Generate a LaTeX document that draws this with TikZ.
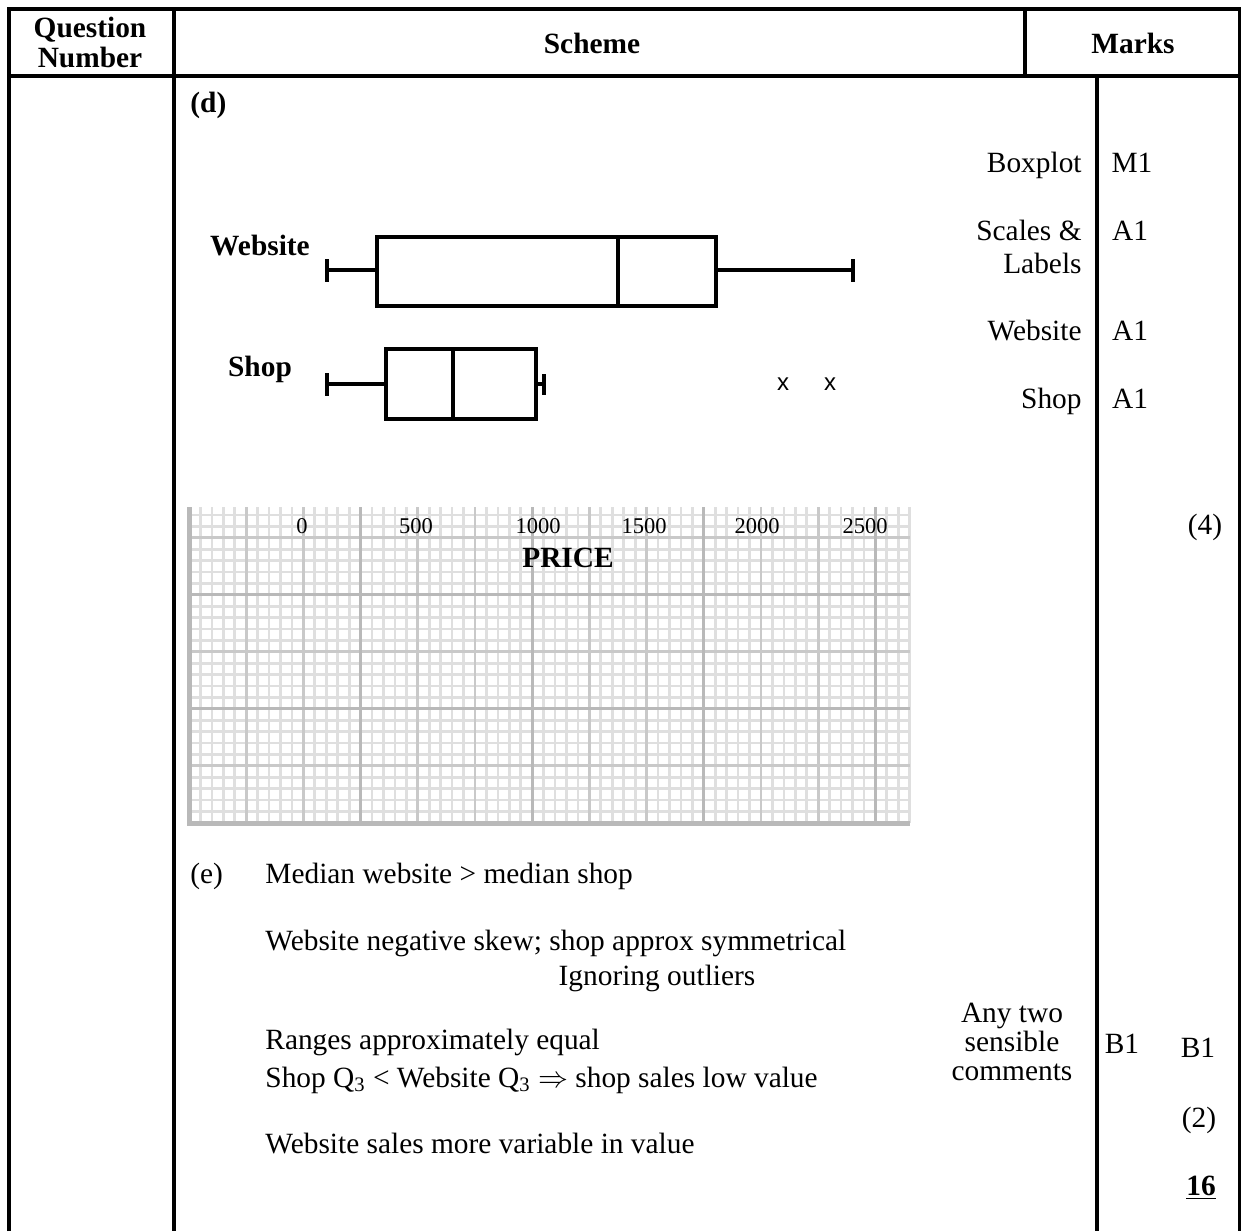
\documentclass[tikz,border=0pt]{standalone}
\usepackage{fontspec}
\setmainfont{Liberation Serif}
\newfontfamily\crossfont{Liberation Sans}
\usepackage{tikz}

\begin{document}
\begin{tikzpicture}[
  x=0.48pt, y=-0.48pt,
  txt/.style={inner sep=0pt, font=\fontsize{14.1}{16.5}\selectfont},
  hdr/.style={inner sep=0pt, font=\fontsize{14.1}{16.5}\selectfont\bfseries},
  scalelbl/.style={inner sep=0pt, font=\fontsize{10.8}{12}\selectfont},
  outlier/.style={inner sep=0pt, font=\crossfont\fontsize{11.5}{12}\selectfont},
  rule/.style={line width=1.5pt},
  plotline/.style={line width=1.5pt},
  minorline/.style={gray!25, line width=1.3pt},
  midline/.style={gray!42, line width=1.4pt},
  majorline/.style={gray!55, line width=1.6pt}
]
  \useasboundingbox (0,0) rectangle (1241,1231);

  % ── table frame ──
  \draw[rule] (9,1231) -- (9,9) -- (1240,9) -- (1240,1231);
  \draw[rule] (9,76) -- (1240,76);
  \draw[rule] (174,9) -- (174,1231);
  \draw[rule] (1025,9) -- (1025,76);
  \draw[rule] (1097,76) -- (1097,1231);

  \node[hdr, anchor=base] (qhead) at (90,37) {Question};
  \node[hdr, anchor=base] (nhead) at (90,67) {Number};
  \node[hdr, anchor=base] (schemehead) at (592,53) {Scheme};
  \node[hdr, anchor=base] (markshead) at (1133,53) {Marks};

  % ── (d) boxplots ──
  \node[hdr, anchor=base west] (partd) at (190,112) {(d)};
  \node[hdr, anchor=base] (weblbl) at (260,255) {Website};
  \node[hdr, anchor=base] (shoplbl) at (260,376) {Shop};

  % website
  \draw[plotline] (327,259) -- (327,282);
  \draw[plotline] (327,270) -- (377,270);
  \draw[plotline] (377,237) rectangle (716,306);
  \draw[plotline] (618,237) -- (618,306);
  \draw[plotline] (716,270) -- (853,270);
  \draw[plotline] (853,259) -- (853,282);

  % shop
  \draw[plotline] (327,373) -- (327,396);
  \draw[plotline] (327,384) -- (386,384);
  \draw[plotline] (386,349) rectangle (536,419);
  \draw[plotline] (453,349) -- (453,419);
  \draw[plotline] (536,384) -- (544,384);
  \draw[plotline] (544,374) -- (544,395);
  \node[outlier] (out1) at (783,384) {x};
  \node[outlier] (out2) at (830,384) {x};

  % ── graph paper ──
  \foreach \k in {0,...,27}
    \draw[minorline] (189,{515+11.4*\k}) -- (910,{515+11.4*\k});
  \foreach \k in {0,...,63}
    \draw[minorline] ({189+11.44*\k},507) -- ({189+11.44*\k},823);
  \foreach \k in {2,7,...,27}
    \draw[midline] (189,{515+11.4*\k}) -- (910,{515+11.4*\k});
  \foreach \k in {0,5,...,60}
    \draw[midline] ({189+11.44*\k},507) -- ({189+11.44*\k},823);
  \foreach \k in {7,17}
    \draw[majorline] (189,{515+11.4*\k}) -- (910,{515+11.4*\k});
  \foreach \k in {0,15,...,60}
    \draw[majorline] ({189+11.44*\k},507) -- ({189+11.44*\k},823);
  \draw[gray!55, line width=2.4pt] (189,507) -- (189,823) -- (910,823);

  \foreach \v/\xx in {0/302, 500/416, 1000/538, 1500/644, 2000/757, 2500/865}
    \node[scalelbl, anchor=base] (s\v) at (\xx,533) {\v};
  \node[hdr, anchor=base] (price) at (568,567) {PRICE};

  % ── marks for (d) ──
  \node[txt, anchor=base east] (critbox) at (1082,172) {Boxplot};
  \node[txt, anchor=base] (mbox) at (1132,172) {M1};
  \node[txt, anchor=base east] (critscale) at (1082,240) {Scales \&};
  \node[txt, anchor=base east] (critlab) at (1082,273) {Labels};
  \node[txt, anchor=base] (mscale) at (1130,240) {A1};
  \node[txt, anchor=base east] (critweb) at (1082,340) {Website};
  \node[txt, anchor=base] (mweb) at (1130,340) {A1};
  \node[txt, anchor=base east] (critshop) at (1082,408) {Shop};
  \node[txt, anchor=base] (mshop) at (1130,408) {A1};
  \node[txt, anchor=base] (totd) at (1205,534) {(4)};

  % ── (e) comments ──
  \node[txt, anchor=base west] (parte) at (190,883) {(e)};
  \node[txt, anchor=base west] (e1) at (265,883) {Median website > median shop};
  \node[txt, anchor=base west] (e2) at (265,950) {Website negative skew; shop approx symmetrical};
  \node[txt, anchor=base] (e2b) at (657,985) {Ignoring outliers};
  \node[txt, anchor=base west] (e3) at (265,1049) {Ranges approximately equal};
  \node[txt, anchor=base west] (e4) at (265,1087)
    {Shop Q\textsubscript{3} < Website Q\textsubscript{3} $\Rightarrow$ shop sales low value};
  \node[txt, anchor=base west] (e5) at (265,1153) {Website sales more variable in value};

  \node[txt, anchor=base] (anytwo) at (1012,1022) {Any two};
  \node[txt, anchor=base] (sensible) at (1012,1051) {sensible};
  \node[txt, anchor=base] (comments) at (1012,1080) {comments};
  \node[txt, anchor=base] (mb1) at (1122,1053) {B1};
  \node[txt, anchor=base] (mb2) at (1198,1057) {B1};
  \node[txt, anchor=base] (tote) at (1199,1127) {(2)};
  \node[hdr, anchor=base] (total) at (1201,1195) {\underline{16}};
\end{tikzpicture}
\end{document}
